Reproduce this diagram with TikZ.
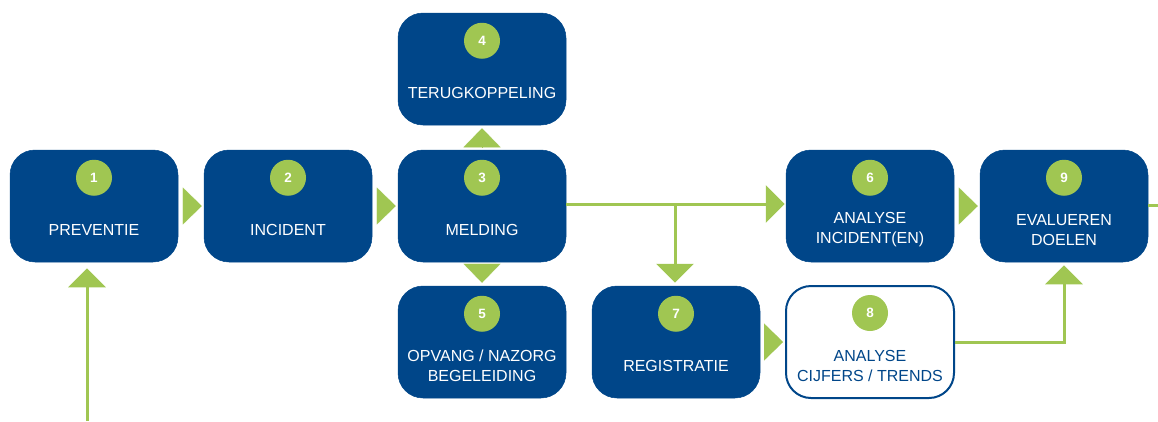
\documentclass[tikz,border=0pt]{standalone}
\usepackage{fontspec}
\setmainfont{Liberation Sans}
\usetikzlibrary{arrows.meta,calc}
\definecolor{nblue}{RGB}{0,70,137}
\definecolor{ngreen}{RGB}{160,198,82}
\tikzset{
  box/.style={rounded corners=25pt, minimum width=168pt, minimum height=112pt,
    fill=nblue, draw=nblue, line width=0.5pt, inner sep=0pt},
  openbox/.style={box, fill=white, line width=2pt},
  num/.style={circle, fill=ngreen, minimum size=36pt, inner sep=0pt,
    text=white, font=\fontsize{13.5}{13.5}\selectfont\bfseries},
  lbl/.style={text=white, align=center, font=\fontsize{16}{20}\selectfont},
  tip/.style={-{Triangle[length=19pt,width=37pt]}},
  flow/.style={ngreen, line width=3pt},
  gap/.style={ngreen, line width=0.1pt, tip},
}
\begin{document}
\begin{tikzpicture}[x=1pt,y=-1pt]
\useasboundingbox (0,0) rectangle (1158,421);

% process boxes
\node[box] (b1) at (94,206) {};
\node[box] (b2) at (288,206) {};
\node[box] (b3) at (482,206) {};
\node[box] (b4) at (482,69) {};
\node[box] (b5) at (482,342) {};
\node[box] (b6) at (870,206) {};
\node[box] (b7) at (676,342) {};
\node[openbox] (b8) at (870,342) {};
\node[box] (b9) at (1064,206) {};

% step numbers
\foreach \b/\n in {b1/1,b2/2,b3/3,b4/4,b5/5,b6/6,b7/7,b8/8,b9/9}
  \node[num] (n\n) at ($(\b.north)+(0,28)$) {\n};

% captions
\node[lbl] (t1) at ($(b1.center)+(0,24)$) {PREVENTIE};
\node[lbl] (t2) at ($(b2.center)+(0,24)$) {INCIDENT};
\node[lbl] (t3) at ($(b3.center)+(0,24)$) {MELDING};
\node[lbl] (t4) at ($(b4.center)+(0,24)$) {TERUGKOPPELING};
\node[lbl] (t5) at ($(b5.center)+(0,24)$) {OPVANG / NAZORG\\BEGELEIDING};
\node[lbl] (t6) at ($(b6.center)+(0,24)$) {ANALYSE\\INCIDENT(EN)};
\node[lbl] (t7) at ($(b7.center)+(0,24)$) {REGISTRATIE};
\node[lbl, text=nblue] (t8) at ($(b8.center)+(0,24)$) {ANALYSE\\CIJFERS / TRENDS};
\node[lbl] (t9) at ($(b9.center)+(0,24)$) {EVALUEREN\\DOELEN};

% arrowheads between neighbouring boxes
\draw[gap] ($(b1.east)+(5,0)$) -- ($(b2.west)+(-2,0)$);
\draw[gap] ($(b2.east)+(5,0)$) -- ($(b3.west)+(-2,0)$);
\draw[gap] ($(b7.east)+(5,0)$) -- ($(b8.west)+(-2,0)$);
\draw[gap] ($(b6.east)+(5,0)$) -- ($(b9.west)+(-2,0)$);
\draw[gap] ($(b3.north)+(0,-3)$) -- ($(b4.south)+(0,3)$);
\draw[gap] ($(b3.south)+(0,3)$) -- ($(b5.north)+(0,-3)$);

% branching connectors
\coordinate (split) at (675,204);
\draw[flow, tip] (b3.east |- split) -- ($(b6.west |- split)+(-1,0)$);
\draw[flow, tip] (split) -- ($(b7.north -| split)+(0,-3)$);
\draw[flow, tip] (b8.east) -| ($(b9.south)+(0,3)$);
\coordinate (out) at (1158,205);
\draw[flow] (b9.east |- out) -- (out);
\coordinate (feed) at (87,421);
\draw[flow, tip] (feed) -- ($(b1.south -| feed)+(0,6)$);
\end{tikzpicture}
\end{document}
